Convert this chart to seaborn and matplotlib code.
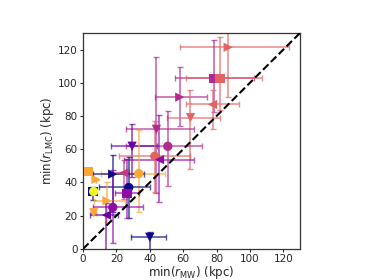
import numpy as np
import pandas as pd
import matplotlib
matplotlib.use("Agg")
import matplotlib.pyplot as plt
import seaborn as sns

# data (kpc)
x_mw  = [87, 78.4, 82, 58, 77.6, 64.4, 44, 50.8, 29.4, 43, 45.8, 33.4, 17.8, 24.4, 3.4, 7.8, 27.4, 6, 6.4, 26.4, 14.4, 17.8, 6.4, 14, 40]
x_lo  = [58, 55, 62, 43.4, 62, 50.4, 26, 26, 17, 21.4, 24.4, 11, 6, 15.4, 3.4, 7.8, 9.4, 4.5, 6.4, 19.4, 6.8, 6, 4.5, 4.4, 28.8]
x_hi  = [123.4, 102.4, 107.4, 74, 93.4, 82, 66.4, 71.4, 44.4, 64.4, 66.4, 49.4, 36.4, 27.4, 3.4, 7.8, 40, 8, 6.4, 33.4, 25.4, 36, 8, 20.8, 50]
y_lmc = [121.4, 102.8, 102.8, 91.4, 87, 79, 72, 61.8, 61.8, 55.8, 53.8, 45.4, 45, 45.8, 46.6, 41.8, 37, 34.6, 34.6, 33.4, 29, 25, 21.8, 20.4, 7]
y_lo  = [91.4, 82.4, 83.4, 73.8, 72.4, 48.4, 33.6, 37.8, 43.4, 34.4, 28.4, 22.4, 22.4, 30, 46.6, 41.8, 18.4, 29.4, 34.6, 18.4, 16.4, 3.4, 21.8, -6.6, -5]
y_hi  = [140, 125.8, 127.8, 109.8, 95.8, 95.8, 115.8, 83, 75, 77, 80.4, 71.8, 56.4, 53.4, 46.6, 41.8, 55.4, 37.4, 34.6, 54.4, 40.4, 47.4, 21.8, 27.4, 10.4]
markers = ['>', 's', 's', '>', '<', 'v', 'v', 'o', 'v', 'o', '<', 'o', '>', '<', 's', '>', 'o', 's', 'o', 's', '>', 'o', 'v', '<', 'v']
colors = ['#e16462', '#b12a90', '#e16462', '#b12a90', '#e16462', '#e16462', '#b12a90', '#b12a90',
          '#6a00a8', '#e16462', '#8f0da4', '#fca636', '#0d0887', '#c03a83', '#fca636', '#fca636',
          '#0d0887', '#0d0887', '#f0f921', '#8f0da4', '#fca636', '#8f0da4', '#fca636', '#6a00a8', '#0d0887']

df = pd.DataFrame({"x": x_mw, "y": y_lmc, "xlo": x_lo, "xhi": x_hi,
                   "ylo": y_lo, "yhi": y_hi, "m": markers, "c": colors})
df["id"] = [str(i) for i in range(len(df))]

sns.set_style("white")
plt.rcParams['font.family'] = ['DejaVu Sans']
fig = plt.figure(figsize=(3.74, 2.8), dpi=100)
ax = fig.add_axes([0.222, 0.111, 0.580, 0.771])

for _, r in df.iterrows():
    ax.errorbar(r.x, r.y,
                xerr=[[r.x - r.xlo], [r.xhi - r.x]],
                yerr=[[r.y - r.ylo], [r.yhi - r.y]],
                fmt='none', ecolor=r.c, alpha=0.7, elinewidth=1.2,
                capsize=2.5, capthick=1.0, zorder=2)

sns.scatterplot(data=df, x="x", y="y", hue="id", style="id",
                palette=dict(zip(df.id, df.c)), markers=dict(zip(df.id, df.m)),
                s=45, linewidth=0, legend=False, ax=ax, zorder=3)

ax.plot([0, 130], [0, 130], ls='--', color='black', lw=1.5, zorder=4)
ax.set_xlim(0, 130)
ax.set_ylim(0, 130)
ax.set_xticks([0, 20, 40, 60, 80, 100, 120])
ax.set_yticks([0, 20, 40, 60, 80, 100, 120])
ax.tick_params(labelsize=7.5, length=2.5, width=0.8, pad=1.5, direction='out', bottom=True, left=True)
ax.set_xlabel(r"min($r_{\rm MW}$) (kpc)", fontsize=8.5, labelpad=-0.5)
ax.set_ylabel(r"min($r_{\rm LMC}$) (kpc)", fontsize=8.5, labelpad=1)
for sp in ax.spines.values():
    sp.set_color('#333333')
    sp.set_linewidth(0.9)

fig.savefig("out.png", dpi=100)
